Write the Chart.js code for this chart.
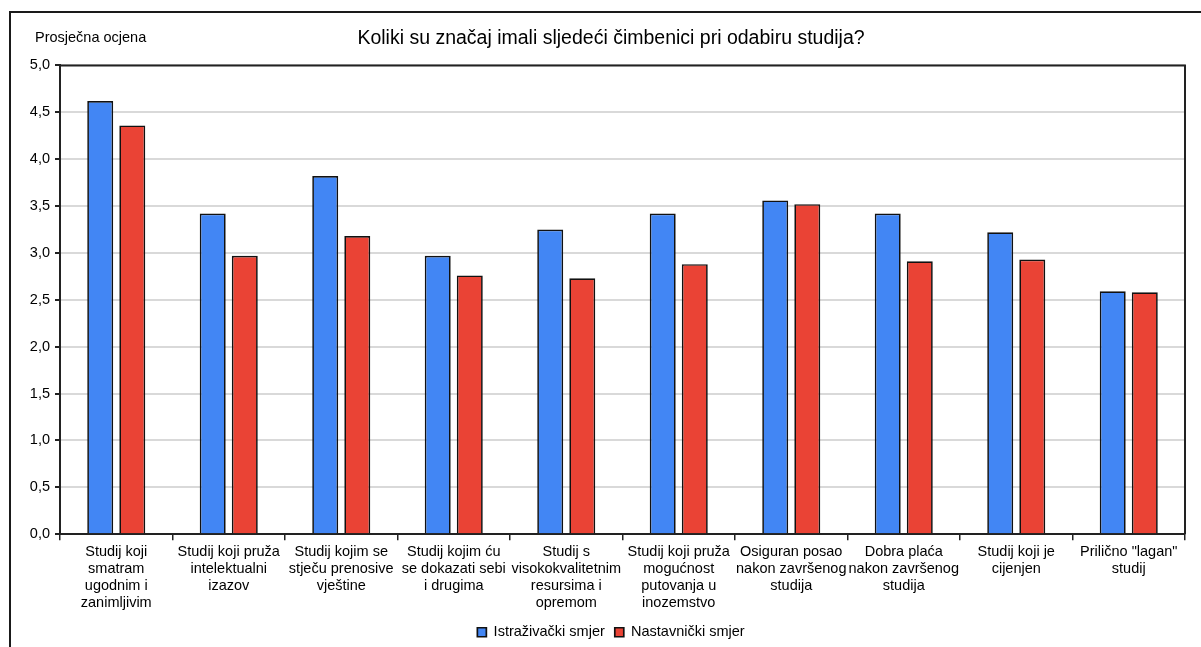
<!DOCTYPE html>
<html>
<head>
<meta charset="utf-8">
<script src="https://cdn.jsdelivr.net/npm/chart.js@4.4.0/dist/chart.umd.min.js"></script>
<style>
  body { margin: 0; overflow: hidden; background: #fff; }
  #wrap { position: absolute; left: 0; top: 0; width: 1201px; height: 647px; }
  #frame { position: absolute; left: 9px; top: 11px; width: 1300px; height: 700px;
           border: 2px solid #1a1a1a; pointer-events: none; }
</style>
</head>
<body>
<div id="wrap"><canvas id="myChart"></canvas></div>
<div id="frame"></div>
<script>
var categories = [
  ['Studij koji', 'smatram', 'ugodnim i', 'zanimljivim'],
  ['Studij koji pruža', 'intelektualni', 'izazov'],
  ['Studij kojim se', 'stječu prenosive', 'vještine'],
  ['Studij kojim ću', 'se dokazati sebi', 'i drugima'],
  ['Studij s', 'visokokvalitetnim', 'resursima i', 'opremom'],
  ['Studij koji pruža', 'mogućnost', 'putovanja u', 'inozemstvo'],
  ['Osiguran posao', 'nakon završenog', 'studija'],
  ['Dobra plaća', 'nakon završenog', 'studija'],
  ['Studij koji je', 'cijenjen'],
  ['Prilično "lagan"', 'studij']
];
var istrazivacki = [4.62, 3.42, 3.82, 2.97, 3.25, 3.42, 3.56, 3.42, 3.22, 2.59];
var nastavnicki = [4.36, 2.97, 3.18, 2.76, 2.73, 2.88, 3.52, 2.91, 2.93, 2.58];
var seriesNames = ['Istraživački smjer', 'Nastavnički smjer'];
var chartTitle = 'Koliki su značaj imali sljedeći čimbenici pri odabiru studija?';
var yTitle = 'Prosječna ocjena';

var FONT = '"Liberation Sans", Arial, sans-serif';

// top + right border of the plot area, and the y title written flat at top left
var plotBox = {
  id: 'plotBox',
  afterDraw: function(chart) {
    var c = chart.ctx, a = chart.chartArea;
    c.save();
    c.strokeStyle = '#222';
    c.lineWidth = 2;
    c.beginPath();
    c.moveTo(a.left, a.top);
    c.lineTo(a.right, a.top);
    c.lineTo(a.right, a.bottom);
    c.stroke();
    c.fillStyle = '#000';
    c.font = '14.5px ' + FONT;
    c.textBaseline = 'middle';
    c.textAlign = 'left';
    c.fillText(yTitle, 35, 38);
    c.restore();
  }
};

var ctx = document.getElementById('myChart').getContext('2d');
var myChart = new Chart(ctx, {
  type: 'bar',
  data: {
    labels: categories,
    datasets: [{
      label: seriesNames[0],
      data: istrazivacki,
      backgroundColor: '#4286f4',
      borderColor: '#111',
      borderWidth: 1.7
    }, {
      label: seriesNames[1],
      data: nastavnicki,
      backgroundColor: '#ea4335',
      borderColor: '#111',
      borderWidth: 1.7
    }]
  },
  options: {
    responsive: true,
    maintainAspectRatio: false,
    animation: false,
    layout: { padding: { left: 37, right: 16, top: 0, bottom: -2.5 } },
    datasets: {
      bar: { categoryPercentage: 0.57, barPercentage: 0.81 }
    },
    plugins: {
      title: {
        display: true,
        text: chartTitle,
        color: '#000',
        font: { family: FONT, size: 19.5, weight: 'normal', lineHeight: 1.2 },
        padding: { top: 27, bottom: 15 }
      },
      legend: {
        position: 'bottom',
        labels: {
          color: '#000',
          font: { family: FONT, size: 14.5 },
          boxWidth: 9,
          boxHeight: 9,
          padding: 10
        }
      },
      tooltip: { enabled: false }
    },
    scales: {
      x: {
        grid: {
          offset: true,
          drawOnChartArea: false,
          drawTicks: true,
          tickLength: 6,
          color: '#222',
          lineWidth: 1.5
        },
        border: { color: '#222', width: 2 },
        ticks: {
          color: '#000',
          font: { family: FONT, size: 14.5, lineHeight: 1.17 },
          padding: 3.5,
          maxRotation: 0,
          minRotation: 0,
          autoSkip: false
        }
      },
      y: {
        min: 0,
        max: 5,
        afterFit: function(s) {
          s.width = 23;
          s._computeLabelArea = function() {};  // let tick labels spill left of the narrow box
        },
        grid: {
          color: '#d9d9d9',
          lineWidth: 2,
          tickLength: 5,
          tickColor: '#222'
        },
        border: { color: '#222', width: 2 },
        ticks: {
          stepSize: 0.5,
          color: '#000',
          font: { family: FONT, size: 14.5 },
          padding: 5,
          callback: function(v) { return v.toFixed(1).replace('.', ','); }
        }
      }
    }
  },
  plugins: [plotBox]
});
</script>
</body>
</html>
